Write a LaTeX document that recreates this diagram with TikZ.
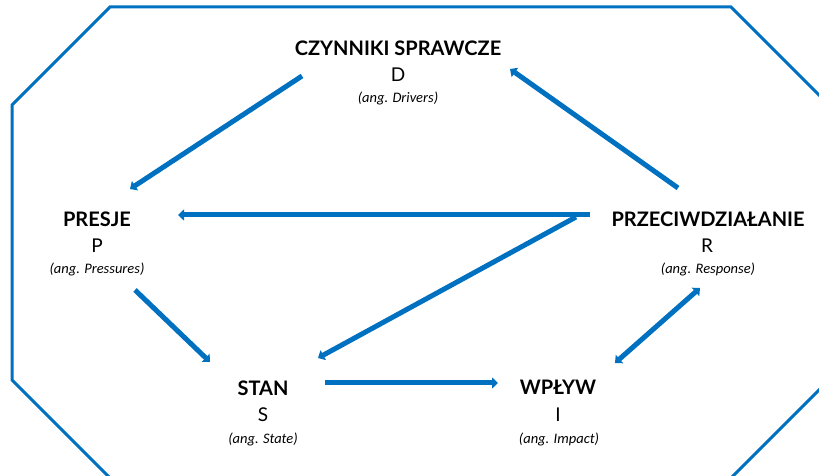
\documentclass[tikz,border=0pt]{standalone}
\usepackage{fontspec}
\setmainfont{Lato}
\newfontfamily\angfont{Carlito}
\usepackage{tikz}
\usetikzlibrary{arrows.meta}
\definecolor{dpsirblue}{RGB}{0,112,192}
\tikzset{
  tytul/.style={anchor=base,inner sep=0pt,font=\bfseries\fontsize{20}{20}\selectfont},
  litera/.style={anchor=base,inner sep=0pt,font=\fontsize{19}{19}\selectfont},
  ang/.style={anchor=base,inner sep=0pt,font=\angfont\itshape\fontsize{14.5}{14.5}\selectfont},
  strzalka/.style={draw=dpsirblue,line width=5pt,>={Triangle[width=11pt,length=6pt]}},
}

\begin{document}
\begin{tikzpicture}[x=1pt,y=1pt]
\useasboundingbox (0,0) rectangle (819,476);
\clip (0,0) rectangle (819,476);
\draw [dpsirblue,line width=3pt] (110,469)--(731,469)--(829,371)--(829,96)--(731,-2)--(110,-2)--(12,96)--(12,371)--cycle;

\node [tytul] (Dt) at (398,420) {CZYNNIKI SPRAWCZE};
\node [litera] (D) at (398,394) {D};
\node [ang] (De) at (398,373) {(ang. Drivers)};

\node [tytul] (Pt) at (97,249) {PRESJE};
\node [litera] (P) at (97,223) {P};
\node [ang] (Pe) at (97,202) {(ang. Pressures)};

\node [tytul] (Rt) at (708,249) {PRZECIWDZIAŁANIE};
\node [litera] (R) at (707,223) {R};
\node [ang] (Re) at (708,202) {(ang. Response)};

\node [tytul] (St) at (263,80) {STAN};
\node [litera] (S) at (263,54) {S};
\node [ang] (Se) at (263,32) {(ang. State)};

\node [tytul] (It) at (558,81) {WPŁYW};
\node [litera] (I) at (558,54) {I};
\node [ang] (Ie) at (559,32) {(ang. Impact)};

\draw [strzalka,->] ([shift={(-96,6)}]D.base) -- ([shift={(33,38)}]Pt.base);
\draw [strzalka,->] ([shift={(-29,65)}]R.base) -- ([shift={(112,-13)}]Dt.base);
\draw [strzalka,->] ([shift={(-118,12)}]Rt.base) -- ([shift={(81,12)}]Pt.base);
\draw [strzalka,->] ([shift={(-132,10)}]Rt.base) -- ([shift={(55,38)}]St.base);
\draw [strzalka,->] ([shift={(38,-16)}]Pe.base) -- ([shift={(-53,34)}]St.base);
\draw [strzalka,->] ([shift={(62,13)}]St.base) -- ([shift={(-60,12)}]It.base);
\draw [strzalka,<->] ([shift={(-8,-14)}]Re.base) -- ([shift={(57,32)}]It.base);
\end{tikzpicture}
\end{document}
